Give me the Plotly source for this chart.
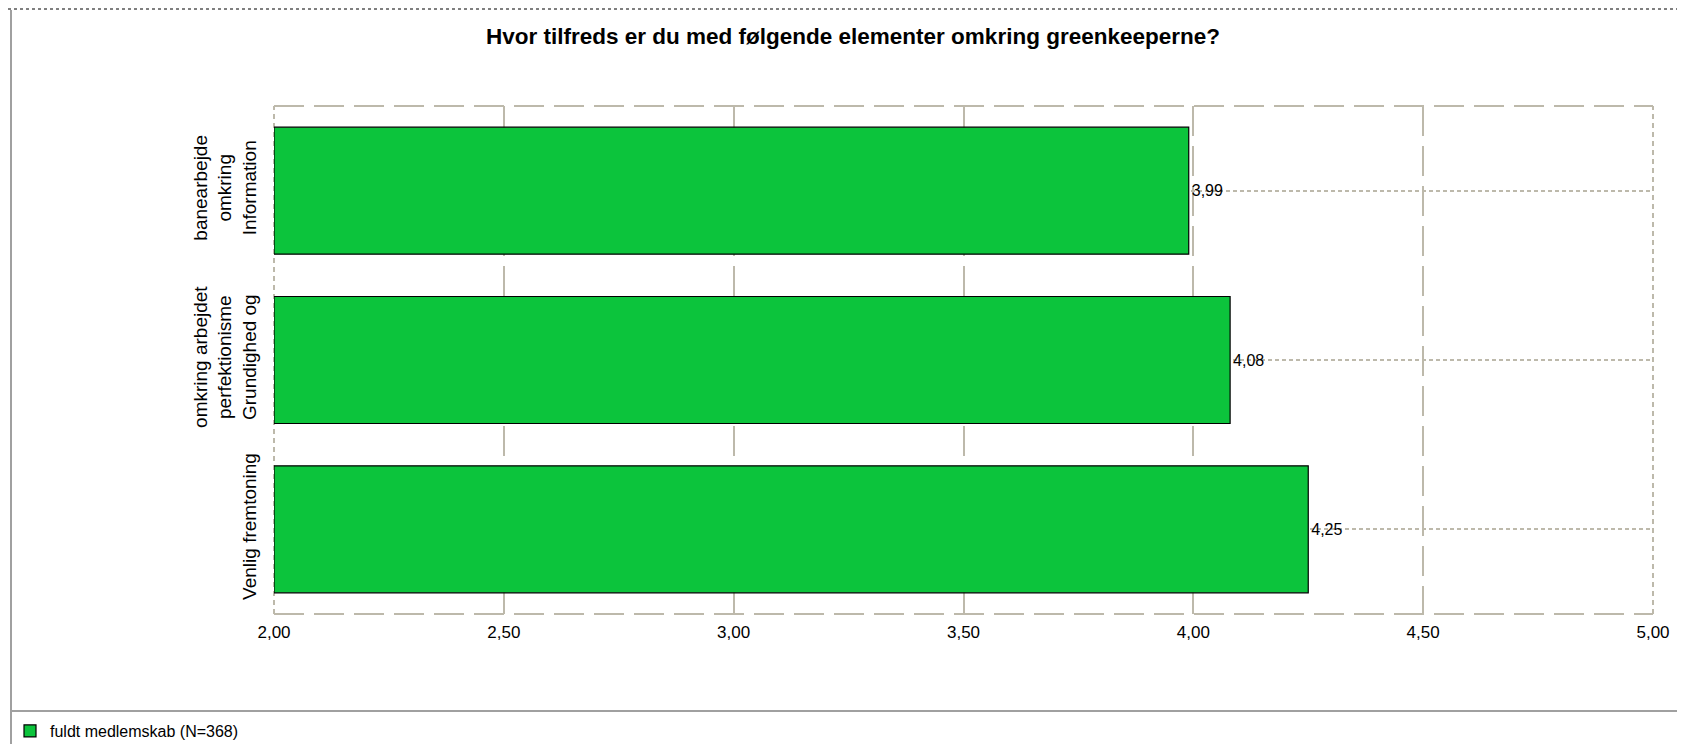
import plotly.graph_objects as go

# ---- data ----
categories = [
    "banearbejde<br>omkring<br>Information",
    "omkring arbejdet<br>perfektionisme<br>Grundighed og",
    "Venlig fremtoning",
]
values = [3.99, 4.08, 4.25]
x_ticks = [2.0, 2.5, 3.0, 3.5, 4.0, 4.5, 5.0]
x_tick_labels = ["2,00", "2,50", "3,00", "3,50", "4,00", "4,50", "5,00"]
series_name = "fuldt medlemskab (N=368)"
title_text = "Hvor tilfreds er du med følgende elementer omkring greenkeeperne?"
axis_start = 2.0

# ---- layout geometry (page pixels; the page body adds an 8px offset) ----
W, H = 1685, 744
OFF = 8
L, R, T, B = 274 - OFF, 1653 - OFF, 106 - OFF, 614 - OFF
GRID = "#bdb9ab"
FONT = "Arial, Liberation Sans, sans-serif"


def px_x(p):
    return (p - OFF - L) / (R - L)


def px_y(p):
    return (B - (p - OFF)) / (B - T)


bar_len = [v - axis_start for v in values]
labels = [f"{v:.2f}".replace(".", ",") for v in values]

fig = go.Figure()
fig.add_trace(go.Bar(
    y=categories,
    x=bar_len,
    base=axis_start,
    orientation="h",
    name=series_name,
    text=labels,
    textposition="outside",
    textfont=dict(family=FONT, size=16, color="#000000"),
    cliponaxis=False,
    marker=dict(color="#0cc43c", line=dict(color="#000000", width=1.2)),
    width=0.75,
    showlegend=True,
))

shapes = []
# plot frame: long dashes top/bottom, short dashes left/right
shapes.append(dict(type="line", xref="paper", yref="paper", x0=0, x1=1, y0=1, y1=1,
                   line=dict(color=GRID, width=2, dash="30px,10px"), layer="below"))
shapes.append(dict(type="line", xref="paper", yref="paper", x0=0, x1=1, y0=0, y1=0,
                   line=dict(color=GRID, width=2, dash="30px,10px"), layer="below"))
shapes.append(dict(type="line", xref="paper", yref="paper", x0=0, x1=0, y0=0, y1=1,
                   line=dict(color=GRID, width=2, dash="5px,4px"), layer="below"))
shapes.append(dict(type="line", xref="paper", yref="paper", x0=1, x1=1, y0=0, y1=1,
                   line=dict(color=GRID, width=2, dash="5px,4px"), layer="below"))
# outer page frame
shapes.append(dict(type="line", xref="paper", yref="paper", x0=px_x(OFF), x1=px_x(W + OFF),
                   y0=px_y(OFF + 1), y1=px_y(OFF + 1),
                   line=dict(color="#000000", width=1, dash="dot")))
shapes.append(dict(type="line", xref="paper", yref="paper", x0=px_x(11), x1=px_x(11), y0=px_y(OFF + 2), y1=px_y(H + OFF),
                   line=dict(color="#a0a0a0", width=2)))
shapes.append(dict(type="line", xref="paper", yref="paper", x0=px_x(11), x1=px_x(W + OFF), y0=px_y(711), y1=px_y(711),
                   line=dict(color="#a0a0a0", width=2)))

fig.update_layout(
    width=W, height=H,
    margin=dict(l=L, r=W - R, t=T, b=H - B, pad=0),
    paper_bgcolor="#ffffff",
    plot_bgcolor="#ffffff",
    font=dict(family=FONT, size=16, color="#000000"),
    separators=",.",
    title=dict(text=title_text, x=845 / W, xref="container", xanchor="center",
               y=1 - 28 / H, yref="container", yanchor="middle",
               font=dict(family=FONT, size=22.5, color="#000000", weight="bold")),
    xaxis=dict(
        range=[2, 5], tickvals=x_ticks, ticktext=x_tick_labels, automargin=False,
        showgrid=False, zeroline=False, showline=False, ticks="",
        tickfont=dict(size=17), ticklabelstandoff=6,
        minor=dict(tickvals=x_ticks[1:-1], showgrid=True, gridcolor=GRID, gridwidth=2,
                   griddash="30px,10px", ticks=""),
    ),
    yaxis=dict(
        categoryorder="array", categoryarray=categories, automargin=False,
        range=[2.5, -0.5], showgrid=True, gridcolor=GRID, gridwidth=1.5, griddash="4px,3px",
        zeroline=False, showline=False, ticks="", tickangle=-90,
        tickfont=dict(size=19), ticklabelstandoff=13,
    ),
    showlegend=True,
    legend=dict(x=2 / W, xref="container", xanchor="left",
                y=1 - 723 / H, yref="container", yanchor="middle",
                font=dict(size=16), bgcolor="rgba(0,0,0,0)"),
    shapes=shapes,
    bargap=0.25,
)

fig.write_html("out.html")
